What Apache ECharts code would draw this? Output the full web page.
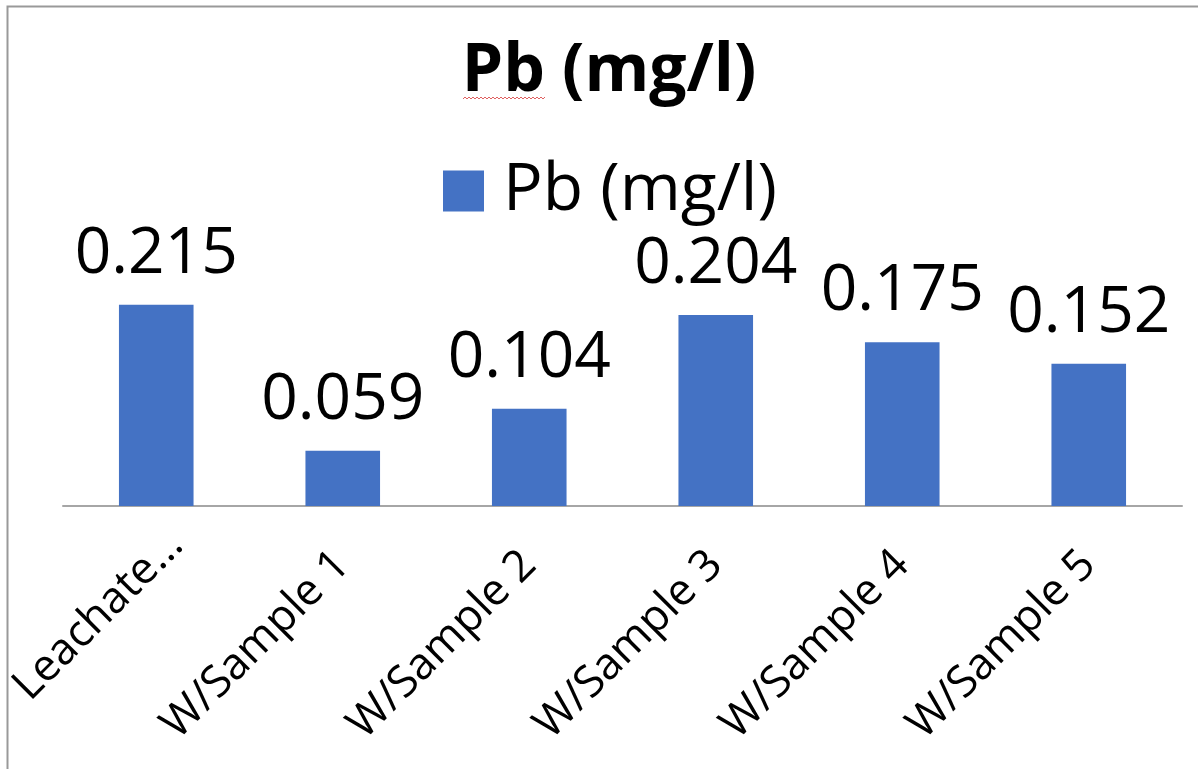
<!DOCTYPE html>
<html><head><meta charset="utf-8">
<script src="https://cdn.jsdelivr.net/npm/echarts@6/dist/echarts.min.js"></script>
<style>html,body{margin:0;padding:0;background:#fff}#c{width:1198px;height:769px}</style>
</head><body><div id="c"></div>
<script>
const categories = ['Leachate Sample', 'W/Sample 1', 'W/Sample 2', 'W/Sample 3', 'W/Sample 4', 'W/Sample 5'];
const pbValues = [0.215, 0.059, 0.104, 0.204, 0.175, 0.152];
const seriesName = 'Pb (mg/l)';
const titleText = 'Pb (mg/l)';

const FONT = '"Open Sans", "Liberation Sans", sans-serif';
const chart = echarts.init(document.getElementById('c'));

// red spellcheck squiggle under "Pb"
const squiggle = [];
for (let x = 463, i = 0; x <= 545; x += 2, i++) squiggle.push([x, i % 2 ? 97 : 99]);

const axisData = categories.map(c => c.indexOf('Leachate') === 0
  ? { value: c, textStyle: { padding: [0, -28, 0, 0] } }
  : c);

chart.setOption({
  animation: false,
  textStyle: { fontFamily: FONT },
  title: {
    text: titleText,
    left: 604, textAlign: 'center',
    top: 34,
    textStyle: { fontFamily: FONT, fontWeight: 'bold', fontSize: 66, color: '#000' }
  },
  legend: {
    data: [seriesName],
    left: 438, top: 153,
    itemWidth: 41, itemHeight: 41, itemGap: 10,
    icon: 'rect',
    textStyle: { fontFamily: FONT, fontSize: 66, color: '#000', padding: [0, 0, 0, 14] }
  },
  graphic: [
    { type: 'rect', shape: { x: 7.5, y: 6.5, width: 1300, height: 900 }, style: { fill: 'none', stroke: '#999', lineWidth: 2 }, silent: true },
    { type: 'polyline', shape: { points: squiggle }, style: { stroke: '#e06060', lineWidth: 1, fill: 'none' }, silent: true, z: 100 }
  ],
  grid: { left: 63, right: 16, top: 272, bottom: 263, containLabel: false, outerBoundsMode: 'none' },
  xAxis: {
    type: 'category',
    data: axisData,
    axisLine: { lineStyle: { color: '#a6a6a6', width: 2 } },
    axisTick: { show: false },
    axisLabel: {
      rotate: 45, interval: 0, margin: 52,
      fontFamily: FONT, fontSize: 44, color: '#000',
      formatter: v => v.length > 10 && v.indexOf('Leachate') === 0 ? 'Leachate…' : v
    }
  },
  yAxis: {
    type: 'value', min: 0, max: 0.25,
    show: false, splitLine: { show: false }
  },
  series: [{
    name: seriesName,
    type: 'bar',
    data: pbValues,
    barWidth: '40%',
    itemStyle: { color: '#4472C4' },
    label: {
      show: true, position: 'top', distance: 18,
      fontFamily: FONT, fontSize: 64, color: '#000',
      formatter: p => p.value.toFixed(3)
    }
  }]
});
</script></body></html>
